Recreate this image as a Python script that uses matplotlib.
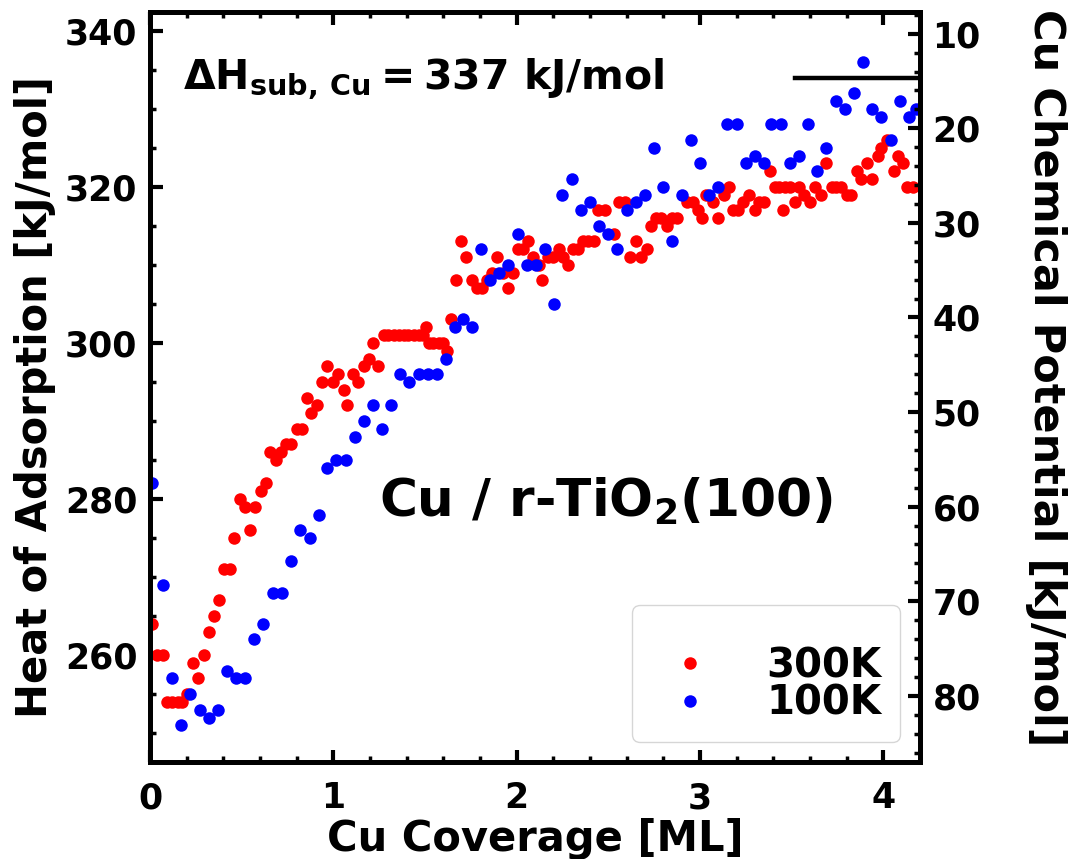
import matplotlib
matplotlib.use("Agg")
import matplotlib.pyplot as plt
from matplotlib.ticker import MultipleLocator

# 300 K data (red)
x_300 = [0.01, 0.04, 0.07, 0.094, 0.12, 0.15, 0.175, 0.2, 0.236, 0.26,
         0.294, 0.32, 0.35, 0.376, 0.405, 0.434, 0.46, 0.49, 0.517, 0.548,
         0.575, 0.603, 0.63, 0.657, 0.685, 0.712, 0.74, 0.77, 0.8, 0.83,
         0.857, 0.88, 0.91, 0.94, 0.968, 0.997, 1.026, 1.057, 1.075, 1.106,
         1.135, 1.166, 1.193, 1.216, 1.243, 1.275, 1.30, 1.33, 1.357, 1.384,
         1.41, 1.44, 1.465, 1.49, 1.507, 1.52, 1.546, 1.574, 1.60, 1.62,
         1.643, 1.668, 1.695, 1.725, 1.755, 1.783, 1.81, 1.84, 1.868, 1.895,
         1.923, 1.955, 1.98, 2.006, 2.035, 2.064, 2.09, 2.12, 2.14, 2.17,
         2.20, 2.23, 2.255, 2.28, 2.31, 2.336, 2.36, 2.39, 2.42, 2.445,
         2.48, 2.53, 2.56, 2.59, 2.62, 2.65, 2.68, 2.71, 2.735, 2.76,
         2.79, 2.82, 2.85, 2.875, 2.93, 2.96, 2.99, 3.01, 3.035, 3.07,
         3.10, 3.13, 3.16, 3.18, 3.21, 3.235, 3.27, 3.30, 3.32, 3.35,
         3.38, 3.41, 3.43, 3.455, 3.465, 3.49, 3.52, 3.54, 3.57, 3.60,
         3.63, 3.66, 3.69, 3.72, 3.74, 3.77, 3.80, 3.825, 3.855, 3.88,
         3.91, 3.94, 3.97, 3.99, 4.02, 4.06, 4.08, 4.11, 4.13, 4.16]
q_300 = [264, 260, 260, 254, 254, 254, 254, 255, 259, 257,
         260, 263, 265, 267, 271, 271, 275, 280, 279, 276,
         279, 281, 282, 286, 285, 286, 287, 287, 289, 289,
         293, 291, 292, 295, 297, 295, 296, 294, 292, 296,
         295, 297, 298, 300, 297, 301, 301, 301, 301, 301,
         301, 301, 301, 301, 302, 300, 300, 300, 300, 299,
         303, 308, 313, 311, 308, 307, 307, 308, 309, 311,
         309, 307, 309, 312, 312, 313, 311, 310, 308, 311,
         311, 312, 311, 310, 312, 312, 313, 313, 313, 317,
         317, 314, 318, 318, 311, 313, 311, 312, 315, 316,
         316, 315, 316, 316, 318, 318, 317, 316, 319, 318,
         316, 319, 320, 317, 317, 318, 319, 317, 318, 318,
         322, 320, 320, 317, 320, 320, 318, 320, 319, 318,
         320, 319, 323, 320, 320, 320, 319, 319, 322, 321,
         323, 321, 324, 325, 326, 322, 324, 323, 320, 320]

# 100 K data (blue)
x_100 = [0.01, 0.07, 0.12, 0.17, 0.22, 0.27, 0.32, 0.37, 0.42, 0.47,
         0.52, 0.57, 0.615, 0.67, 0.72, 0.77, 0.82, 0.87, 0.92, 0.966,
         1.017, 1.067, 1.117, 1.167, 1.216, 1.265, 1.316, 1.365, 1.414, 1.465,
         1.516, 1.565, 1.616, 1.665, 1.706, 1.755, 1.806, 1.855, 1.905, 1.955,
         2.005, 2.055, 2.105, 2.155, 2.205, 2.25, 2.30, 2.35, 2.40, 2.45,
         2.50, 2.55, 2.60, 2.65, 2.70, 2.75, 2.80, 2.85, 2.90, 2.95,
         3.00, 3.05, 3.10, 3.15, 3.20, 3.25, 3.30, 3.35, 3.39, 3.44,
         3.49, 3.54, 3.59, 3.64, 3.69, 3.74, 3.79, 3.84, 3.89, 3.94,
         3.99, 4.04, 4.09, 4.14, 4.18]
q_100 = [282, 269, 257, 251, 255, 253, 252, 253, 258, 257,
         257, 262, 264, 268, 268, 272, 276, 275, 278, 284,
         285, 285, 288, 290, 292, 289, 292, 296, 295, 296,
         296, 296, 298, 302, 303, 302, 312, 308, 309, 310,
         314, 310, 310, 312, 305, 319, 321, 317, 318, 315,
         314, 312, 317, 318, 319, 325, 320, 313, 319, 326,
         323, 319, 320, 328, 328, 323, 324, 323, 328, 328,
         323, 324, 328, 322, 325, 331, 330, 332, 336, 330,
         329, 326, 331, 329, 330]

dh_line_x = [3.52, 4.2]
dh_line_y = [334, 334]

plt.rcParams['font.family'] = 'DejaVu Sans'
plt.rcParams['font.weight'] = 'bold'
plt.rcParams['mathtext.fontset'] = 'dejavusans'
plt.rcParams['mathtext.default'] = 'bf'

fig = plt.figure(figsize=(10.73, 8.59), dpi=100)
ax = fig.add_axes([150 / 1073, 1 - 762 / 859, 770 / 1073, 750 / 859])

ax.plot(x_300, q_300, 'o', color='#ff0000', ms=9, mew=0, label='300K')
ax.plot(x_100, q_100, 'o', color='#0000ff', ms=9, mew=0, label='100K')
ax.plot(dh_line_x, dh_line_y, '-', color='black', lw=3.2)

ax.set_xlim(0, 4.2)
ax.set_ylim(246.3, 342.4)
ax.xaxis.set_major_locator(MultipleLocator(1))
ax.xaxis.set_minor_locator(MultipleLocator(0.2))
ax.yaxis.set_major_locator(MultipleLocator(20))
ax.yaxis.set_minor_locator(MultipleLocator(5))

for s in ax.spines.values():
    s.set_linewidth(3.5)

ax.tick_params(which='both', direction='in', top=True, right=False)
ax.tick_params(which='major', length=9, width=3)
ax.tick_params(which='minor', length=4.5, width=2.5)
ax.tick_params(axis='x', labelsize=25, pad=14)
ax.tick_params(axis='y', labelsize=25, pad=9)

ax.set_xlabel('Cu Coverage [ML]', fontsize=30, fontweight='bold', labelpad=2)
ax.set_ylabel('Heat of Adsorption [kJ/mol]', fontsize=30, fontweight='bold', labelpad=6)
ax.yaxis.set_label_coords(-0.122, 0.487)

ax2 = ax.twinx()
ax2.set_ylim(87.0, 7.7)
ax2.yaxis.set_major_locator(MultipleLocator(10))
ax2.yaxis.set_minor_locator(MultipleLocator(2))
ax2.tick_params(which='both', direction='in')
ax2.tick_params(which='major', length=9, width=3, labelsize=25, pad=9)
ax2.tick_params(which='minor', length=4.5, width=2.5)
for s in ax2.spines.values():
    s.set_linewidth(3.5)
ax2.set_ylabel('Cu Chemical Potential [kJ/mol]', fontsize=31, fontweight='bold',
               rotation=270, va='bottom', labelpad=28)
ax2.yaxis.set_label_coords(1.1365, 0.512)

ax.text(0.18, 332.5, r'$\mathbf{\Delta H_{sub,\,Cu} = 337\ kJ/mol}$',
        fontsize=29.5, ha='left', va='baseline')
ax.text(1.247, 277.7, r'Cu / r-TiO$_2$(100)', fontsize=37.3,
        fontweight='bold', ha='left', va='baseline')

ax.legend(loc='lower right', prop={'weight': 'bold', 'size': 29},
          labelspacing=-0.07, handletextpad=0.9, borderpad=0.45,
          title=' ', title_fontsize=19)

fig.savefig('out.png', dpi=100)
